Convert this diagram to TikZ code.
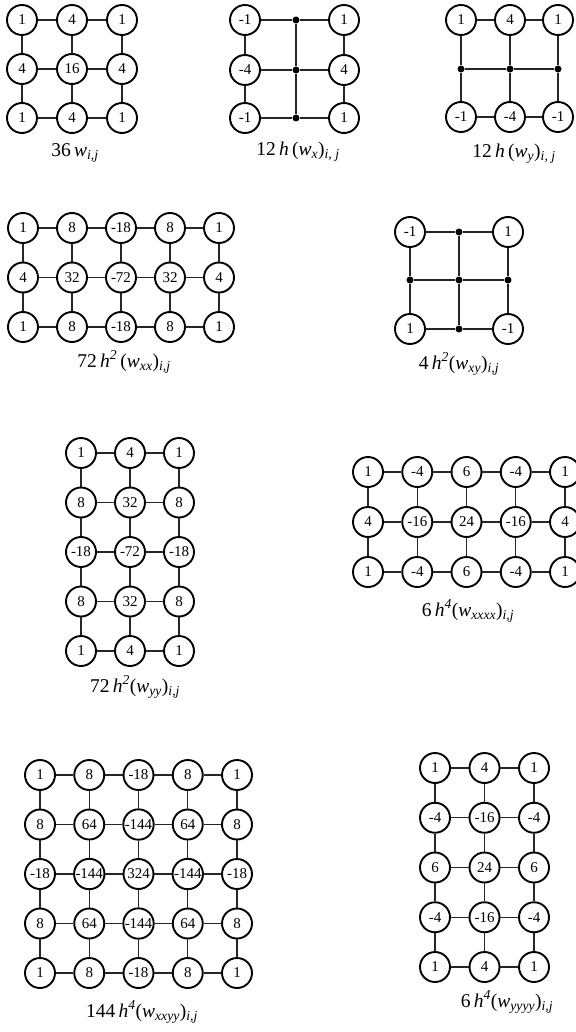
\documentclass[tikz,border=0pt]{standalone}
\usepackage{fontspec}
\setmainfont{Liberation Serif}
\newcommand\fullgrid[6]{%
 \foreach \row [count=\r] in {#6} {
   \foreach \v [count=\c] in \row {
     \node[cell] (#1-\r-\c) at ({#2+#4*(\c-1)}, {#3+#5*(\r-1)}) {\v};
     \ifnum\c>1 \pgfmathtruncatemacro\pc{\c-1}\draw[link] (#1-\r-\pc) -- (#1-\r-\c);\fi
     \ifnum\r>1 \pgfmathtruncatemacro\pr{\r-1}\draw[link] (#1-\pr-\c) -- (#1-\r-\c);\fi
   }
 }
}
\newcommand\itx[1]{\textit{#1}}
\begin{document}
\begin{tikzpicture}[x=1pt,y=-1pt,
  cell/.style={circle, draw, line width=1.9pt, minimum size=30pt, inner sep=0.5pt, font=\fontsize{15}{15}\selectfont},
  jdot/.style={circle, fill, inner sep=0pt, minimum size=7pt},
  link/.style={line width=1.3pt, draw=black!85},
  lab/.style={font=\fontsize{19.5}{19.5}\selectfont, inner sep=0pt}]
\useasboundingbox (0,0) rectangle (575,1032);
% grid 1
\fullgrid{a}{22}{20}{50}{49}{{1,4,1},{4,16,4},{1,4,1}}
\node[lab] (la) at (75,153) {36\,\itx{w}\textsubscript{\itx{i,j}}};
% grid 2
\node[cell] (b11) at (245,20) {-1};
\node[cell] (b21) at (245,70) {-4};
\node[cell] (b31) at (245,118) {-1};
\node[cell] (b13) at (344,20) {1};
\node[cell] (b23) at (344,70) {4};
\node[cell] (b33) at (344,118) {1};
\node[jdot] (b12) at (296,20) {};
\node[jdot] (b22) at (296,70) {};
\node[jdot] (b32) at (296,118) {};
\draw[link] (b11) -- (b12) -- (b13);
\draw[link] (b21) -- (b22) -- (b23);
\draw[link] (b31) -- (b32) -- (b33);
\draw[link] (b11) -- (b21) -- (b31);
\draw[link] (b13) -- (b23) -- (b33);
\draw[link] (b12) -- (b22) -- (b32);
\node[lab] (lb) at (298,152) {12\,\itx{h}\,(\itx{w}\textsubscript{\itx{x}})\textsubscript{\itx{i, j}}};
% grid 3
\node[cell] (c11) at (461,20) {1};
\node[cell] (c12) at (510,20) {4};
\node[cell] (c13) at (558,20) {1};
\node[jdot] (c21) at (461,69) {};
\node[jdot] (c22) at (510,69) {};
\node[jdot] (c23) at (558,69) {};
\node[cell] (c31) at (461,117) {-1};
\node[cell] (c32) at (510,117) {-4};
\node[cell] (c33) at (558,117) {-1};
\draw[link] (c11) -- (c12) -- (c13);
\draw[link] (c21) -- (c22) -- (c23);
\draw[link] (c31) -- (c32) -- (c33);
\draw[link] (c11) -- (c21) -- (c31);
\draw[link] (c12) -- (c22) -- (c32);
\draw[link] (c13) -- (c23) -- (c33);
\node[lab] (lc) at (514,154) {12\,\itx{h}\,(\itx{w}\textsubscript{\itx{y}})\textsubscript{\itx{i, j}}};
% grid 4
\fullgrid{d}{23}{228}{49}{49.5}{{1,8,-18,8,1},{4,32,-72,32,4},{1,8,-18,8,1}}
\node[lab] (ld) at (124,362) {72\,\itx{h}\textsuperscript{\itx{2}}\,(\itx{w}\textsubscript{\itx{xx}})\textsubscript{\itx{i,j}}};
% grid 5
\node[cell] (e11) at (410,232) {-1};
\node[cell] (e13) at (508,232) {1};
\node[cell] (e31) at (410,329) {1};
\node[cell] (e33) at (508,329) {-1};
\node[jdot] (e12) at (459,232) {};
\node[jdot] (e21) at (410,280) {};
\node[jdot] (e22) at (459,280) {};
\node[jdot] (e23) at (508,280) {};
\node[jdot] (e32) at (459,329) {};
\draw[link] (e11) -- (e12) -- (e13);
\draw[link] (e21) -- (e22) -- (e23);
\draw[link] (e31) -- (e32) -- (e33);
\draw[link] (e11) -- (e21) -- (e31);
\draw[link] (e12) -- (e22) -- (e32);
\draw[link] (e13) -- (e23) -- (e33);
\node[lab] (le) at (459,364) {4\,\itx{h}\textsuperscript{\itx{2}}(\itx{w}\textsubscript{\itx{xy}})\textsubscript{\itx{i,j}}};
% grid 6
\fullgrid{f}{81}{453}{49}{49.5}{{1,4,1},{8,32,8},{-18,-72,-18},{8,32,8},{1,4,1}}
\node[lab] (lf) at (135,687) {72\,\itx{h}\textsuperscript{\itx{2}}(\itx{w}\textsubscript{\itx{yy}})\textsubscript{\itx{i,j}}};
% grid 7
\fullgrid{g}{368}{472}{49.25}{50}{{1,-4,6,-4,1},{4,-16,24,-16,4},{1,-4,6,-4,1}}
\node[lab] (lg) at (468,611) {6\,\itx{h}\textsuperscript{\itx{4}}(\itx{w}\textsubscript{\itx{xxxx}})\textsubscript{\itx{i,j}}};
% grid 8
\fullgrid{h}{40}{775}{49.25}{49.5}{{1,8,-18,8,1},{8,64,-144,64,8},{-18,-144,324,-144,-18},{8,64,-144,64,8},{1,8,-18,8,1}}
\node[lab] (lh) at (142,1012) {144\,\itx{h}\textsuperscript{\itx{4}}(\itx{w}\textsubscript{\itx{xxyy}})\textsubscript{\itx{i,j}}};
% grid 9
\fullgrid{k}{435}{768}{49.5}{49.75}{{1,4,1},{-4,-16,-4},{6,24,6},{-4,-16,-4},{1,4,1}}
\node[lab] (lk) at (507,1002) {6\,\itx{h}\textsuperscript{\itx{4}}(\itx{w}\textsubscript{\itx{yyyy}})\textsubscript{\itx{i,j}}};
\end{tikzpicture}
\end{document}
